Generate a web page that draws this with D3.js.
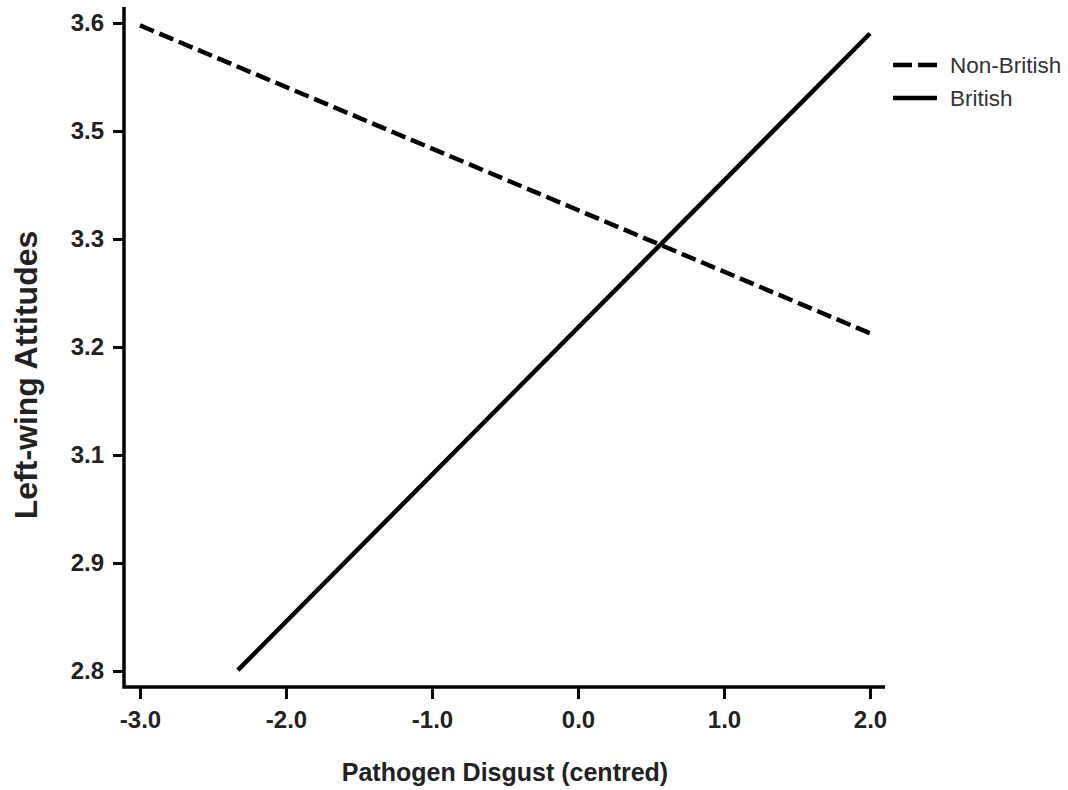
<!DOCTYPE html>
<html>
<head>
<meta charset="utf-8">
<script src="https://cdn.jsdelivr.net/npm/d3@7"></script>
<style>
  body { margin: 0; background: #fff; }
  svg { display: block; font-family: "Liberation Sans", Arial, sans-serif; }
  .tick text { font-weight: bold; font-size: 24px; fill: #222; }
</style>
</head>
<body>
<svg id="chart" width="1068" height="790"></svg>
<script>
// pathogen disgust (centred) vs left-wing attitudes, simple slopes
const seriesNames = ["Non-British", "British"];
const nonBritish = [{ x: -3.0, y: 3.597 }, { x: 2.0, y: 3.217 }];
const british = [{ x: -2.33, y: 2.801 }, { x: 2.0, y: 3.587 }];
const xTicks = [-3, -2, -1, 0, 1, 2];
const yTicks = [2.8, 2.9333, 3.0667, 3.2, 3.3333, 3.4667, 3.6];

const svg = d3.select("#chart");

const x = d3.scaleLinear().domain([-3, 2]).range([140, 870]);
const y = d3.scaleLinear().domain([2.8, 3.6]).range([671, 23]);

const axisX = 124, axisY = 687;
const fmt = d => d.toFixed(1);

// y axis
const gy = svg.append("g")
    .attr("transform", "translate(" + axisX + ",0)")
    .call(d3.axisLeft(y).tickValues(yTicks).tickFormat(fmt).tickSize(11).tickPadding(9));
gy.select(".domain").remove();
gy.selectAll(".tick line").attr("stroke", "#000").attr("stroke-width", 3);

// x axis
const gx = svg.append("g")
    .attr("transform", "translate(0," + axisY + ")")
    .call(d3.axisBottom(x).tickValues(xTicks).tickFormat(fmt).tickSize(12).tickPadding(12));
gx.select(".domain").remove();
gx.selectAll(".tick line").attr("stroke", "#000").attr("stroke-width", 3);

// axis lines run a bit past the data range
svg.append("path")
    .attr("d", "M" + axisX + "," + (y(3.6) - 16) + "V" + axisY + "H" + (x(2) + 15))
    .attr("fill", "none")
    .attr("stroke", "#000")
    .attr("stroke-width", 3.5);

const line = d3.line().x(d => x(d.x)).y(d => y(d.y));

svg.append("path")
    .datum(nonBritish)
    .attr("d", line)
    .attr("fill", "none")
    .attr("stroke", "#000")
    .attr("stroke-width", 4.5)
    .attr("stroke-dasharray", "15,6");

svg.append("path")
    .datum(british)
    .attr("d", line)
    .attr("fill", "none")
    .attr("stroke", "#000")
    .attr("stroke-width", 4.5);

// axis titles
svg.append("text")
    .attr("x", 505)
    .attr("y", 781)
    .attr("text-anchor", "middle")
    .attr("font-weight", "bold")
    .attr("font-size", 25)
    .attr("fill", "#222")
    .text("Pathogen Disgust (centred)");

svg.append("text")
    .attr("transform", "translate(37,375) rotate(-90)")
    .attr("text-anchor", "middle")
    .attr("font-weight", "bold")
    .attr("font-size", 32)
    .attr("fill", "#222")
    .text("Left-wing Attitudes");

// legend
const legend = svg.append("g").attr("transform", "translate(893,65)");
seriesNames.forEach(function(name, i) {
    legend.append("line")
        .attr("x1", 0).attr("x2", 44)
        .attr("y1", i * 33).attr("y2", i * 33)
        .attr("stroke", "#000")
        .attr("stroke-width", 4.5)
        .attr("stroke-dasharray", i === 0 ? "19,6" : null);
    legend.append("text")
        .attr("x", 57)
        .attr("y", i * 33)
        .attr("dy", "0.35em")
        .attr("font-size", 22.5)
        .attr("fill", "#333")
        .text(name);
});
</script>
</body>
</html>
